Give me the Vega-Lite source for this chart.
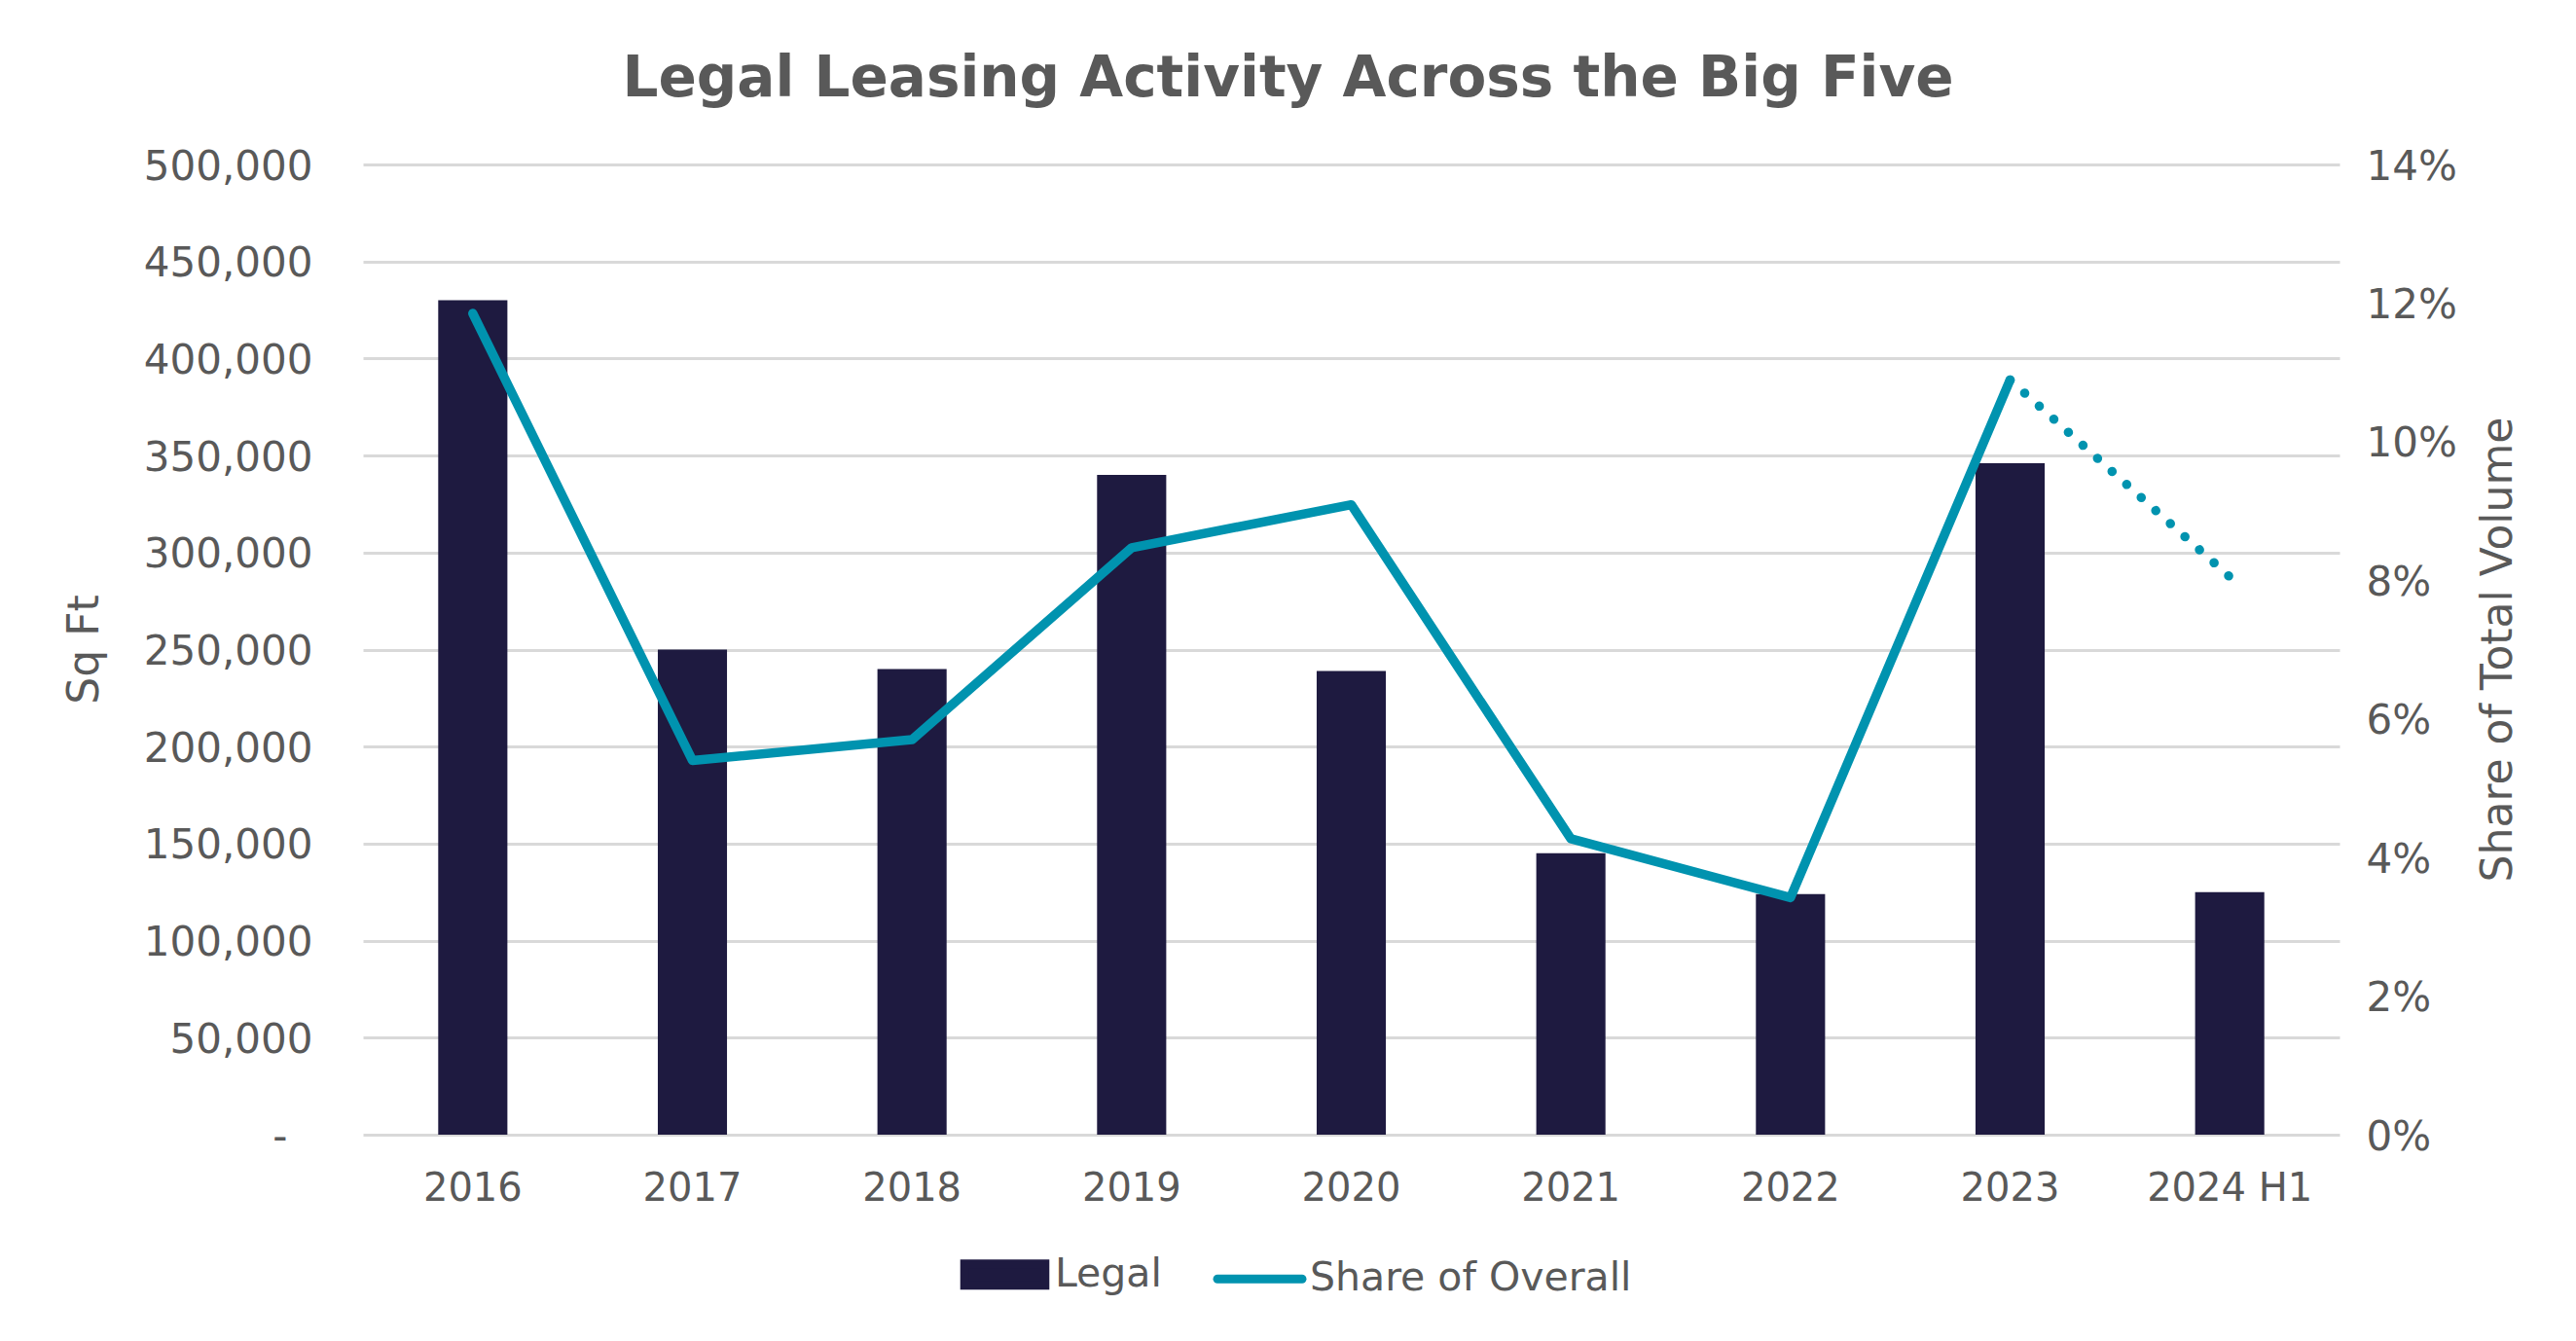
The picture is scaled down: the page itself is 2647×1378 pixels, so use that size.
{
  "$schema": "https://vega.github.io/schema/vega-lite/v6.json",
  "autosize": {"type": "none"},
  "width": 2031,
  "height": 997,
  "padding": {"left": 373, "top": 169, "right": 243, "bottom": 212},
  "background": "white",
  "title": {
    "text": "Legal Leasing Activity Across the Big Five",
    "font": "DejaVu Sans",
    "fontSize": 58,
    "fontWeight": "bold",
    "color": "#595959",
    "anchor": "middle",
    "dx": -65,
    "offset": 39
  },
  "data": {
    "values": [
      {"year": "2016", "sqft": 430000, "share": 0.1185},
      {"year": "2017", "sqft": 250000, "share": 0.054},
      {"year": "2018", "sqft": 240000, "share": 0.057},
      {"year": "2019", "sqft": 340000, "share": 0.0847},
      {"year": "2020", "sqft": 239000, "share": 0.0909},
      {"year": "2021", "sqft": 145000, "share": 0.0427},
      {"year": "2022", "sqft": 124000, "share": 0.0342},
      {"year": "2023", "sqft": 346000, "share": 0.1089},
      {"year": "2024 H1", "sqft": 125000, "share": 0.0805}
    ]
  },
  "encoding": {
    "x": {
      "field": "year",
      "type": "nominal",
      "sort": null,
      "scale": {"paddingInner": 0.685, "paddingOuter": 0.3425},
      "axis": {"title": null}
    }
  },
  "layer": [
    {
      "mark": {"type": "bar"},
      "encoding": {
        "y": {
          "field": "sqft",
          "type": "quantitative",
          "scale": {"domain": [0, 500000], "nice": false},
          "axis": {
            "title": "Sq Ft",
            "values": [0, 50000, 100000, 150000, 200000, 250000, 300000, 350000, 400000, 450000, 500000],
            "labelExpr": "datum.value === 0 ? '-' : format(datum.value, ',')",
            "grid": true,
            "gridColor": "#D9D9D9",
            "gridWidth": 3,
            "domain": false,
            "ticks": false,
            "labelPadding": {"condition": {"test": "datum.value === 0", "value": 78}, "value": 52},
            "labelFontSize": 42,
            "labelOffset": 2,
            "titleAngle": -90,
            "titleX": -273,
            "titleY": 498,
            "titleBaseline": "alphabetic",
            "titleAlign": "center"
          }
        },
        "color": {
          "datum": "Legal",
          "type": "nominal",
          "scale": {"domain": ["Legal", "Share of Overall"], "range": ["#1E1A40", "#0093AF"]},
          "legend": {
            "title": null,
            "orient": "none",
            "legendX": 607,
            "legendY": 1088,
            "direction": "horizontal",
            "symbolSize": 9216,
            "labelOffset": -1,
            "columnPadding": 39,
            "labelLimit": 0,
            "labelFont": "DejaVu Sans",
            "labelFontSize": 41,
            "labelColor": "#595959",
            "padding": 0,
            "encode": {
              "symbols": {
                "update": {
                  "shape": {"signal": "datum.value === 'Legal' ? 'M-0.86,-0.229H0.86V0.229H-0.86Z' : 'M-0.906,0H0.906'"},
                  "fill": {"signal": "datum.value === 'Legal' ? '#1E1A40' : 'transparent'"},
                  "stroke": {"signal": "datum.value === 'Legal' ? 'transparent' : '#0093AF'"},
                  "strokeWidth": {"value": 9},
                  "strokeCap": {"value": "round"},
                  "opacity": {"value": 1}
                }
              }
            }
          }
        }
      }
    },
    {
      "layer": [
        {
          "transform": [{"filter": "datum.year !== '2024 H1'"}],
          "mark": {"type": "line", "strokeWidth": 9.5, "strokeCap": "round", "strokeJoin": "round"},
          "encoding": {
            "y": {
              "field": "share",
              "type": "quantitative",
              "scale": {"domain": [0, 0.14], "nice": false},
              "axis": {
                "orient": "right",
                "title": "Share of Total Volume",
                "values": [0, 0.02, 0.04, 0.06, 0.08, 0.1, 0.12, 0.14],
                "format": ".0%",
                "grid": false,
                "domain": false,
                "ticks": false,
                "labelPadding": 27,
                "labelFontSize": 42,
                "labelOffset": 2,
                "titleAngle": -90,
                "titleX": 176,
                "titleY": 498,
                "titleBaseline": "alphabetic",
                "titleAlign": "center"
              }
            },
            "color": {"datum": "Share of Overall", "type": "nominal"}
          }
        },
        {
          "transform": [{"filter": "datum.year === '2023' || datum.year === '2024 H1'"}],
          "mark": {"type": "line", "strokeWidth": 9.5, "strokeCap": "round", "strokeDash": [0.1, 20]},
          "encoding": {
            "y": {"field": "share", "type": "quantitative"},
            "color": {"datum": "Share of Overall", "type": "nominal"}
          }
        }
      ]
    }
  ],
  "resolve": {"scale": {"y": "independent"}},
  "config": {
    "view": {"stroke": null},
    "font": "DejaVu Sans",
    "axis": {
      "labelFont": "DejaVu Sans",
      "labelColor": "#595959",
      "titleFont": "DejaVu Sans",
      "titleFontSize": 44,
      "titleFontWeight": "normal",
      "titleColor": "#595959"
    },
    "axisX": {
      "domain": false,
      "ticks": false,
      "grid": false,
      "labelAngle": 0,
      "labelFontSize": 40,
      "labelPadding": 35
    }
  }
}
